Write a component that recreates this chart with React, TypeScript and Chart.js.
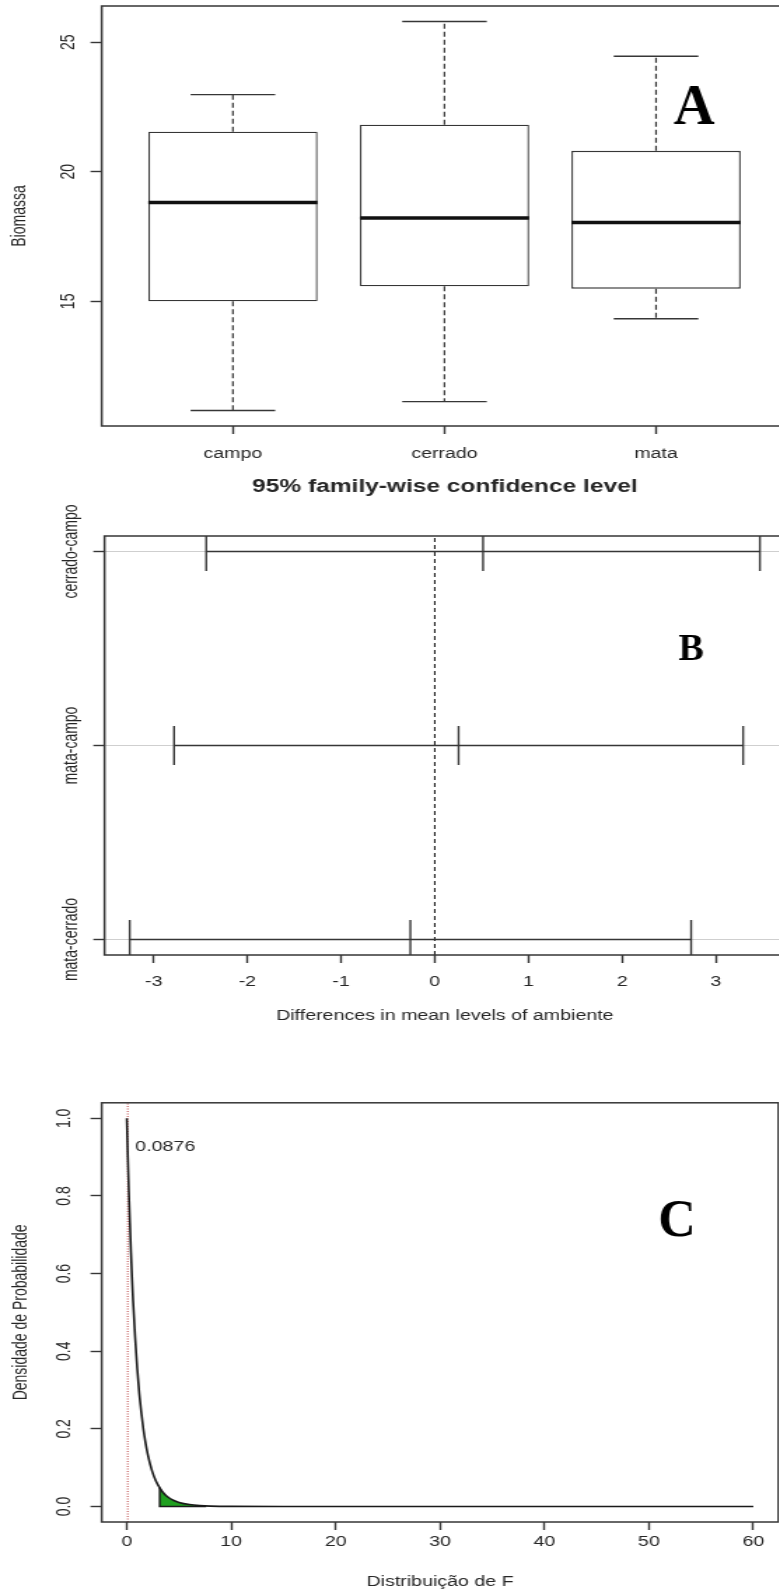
import React, { useEffect, useRef } from "react";
import { Chart, registerables } from "chart.js";

Chart.register(...registerables);

// ---------- general look ----------
const STRETCH = 1.4; // the reference picture is stretched horizontally
const BUFFER_W = 572; // drawing-buffer width of every canvas
const FONT = "'Liberation Sans', Arial, Helvetica, sans-serif";
const SERIF = "'Liberation Serif', 'Times New Roman', serif";
const INK = "#262626";
const LINE = "#363636";

// ---------- Panel A : boxplot of Biomassa ----------
const categories = ["campo", "cerrado", "mata"];
const whiskerLow = [10.79, 11.13, 14.33];
const quartile1 = [15.0, 15.58, 15.49];
const medians = [18.82, 18.22, 18.04];
const quartile3 = [21.55, 21.82, 20.81];
const whiskerHigh = [22.98, 25.8, 24.46];
const biomassTicks = [15, 20, 25];

// ---------- Panel B : Tukey HSD ----------
const comparisons = ["cerrado-campo", "mata-campo", "mata-cerrado"];
const diffs = [0.515, 0.254, -0.261];
const lowers = [-2.44, -2.783, -3.256];
const uppers = [3.47, 3.291, 2.736];
const diffTicks = [-3, -2, -1, 0, 1, 2, 3];

// ---------- Panel C : F distribution ----------
const fX = [0, 0.1, 0.2, 0.3, 0.4, 0.5, 0.6, 0.8, 1.0, 1.2, 1.4, 1.6, 1.8, 2.0, 2.4, 2.8, 3.2, 3.6, 4.0, 4.5, 5.0, 6.0, 7.0, 8.0, 10, 15, 20, 30, 40, 50, 60];
const fDensity = [1.0, 0.9, 0.81, 0.73, 0.655, 0.59, 0.53, 0.435, 0.355, 0.29, 0.24, 0.197, 0.163, 0.135, 0.093, 0.065, 0.046, 0.032, 0.023, 0.0155, 0.0105, 0.005, 0.0023, 0.001, 0.0002, 0, 0, 0, 0, 0, 0];
const tailX = [3.15, 3.2, 3.6, 4.0, 4.5, 5.0, 6.0, 7.0, 7.6];
const tailDensity = [0.048, 0.046, 0.032, 0.023, 0.0155, 0.0105, 0.005, 0.0023, 0.0015];
const fTicks = [0, 10, 20, 30, 40, 50, 60];
const densityTicks = [0, 0.2, 0.4, 0.6, 0.8, 1.0];
const observedF = 0.0876;
const observedLabel = "0.0876";

// panel letters, placed in data units of each panel
const letterA = { text: "A", x: 3.18, y: 21.84, size: 57 };
const letterB = { text: "B", x: 2.736, y: 2.443, size: 38 };
const letterC = { text: "C", x: 52.7, y: 0.697, size: 52 };

// R-style axis range (4% extension)
const rRange = (lo: number, hi: number) => {
  const d = (hi - lo) * 0.04;
  return [lo - d, hi + d];
};

// break marker for line segments
const gap = (x: number) => ({ x, y: null as any });

function segments(pairs: { x0: number; y0: number; x1: number; y1: number }[]) {
  const out: any[] = [];
  pairs.forEach((p) => {
    out.push({ x: p.x0, y: p.y0 }, { x: p.x1, y: p.y1 }, gap(p.x1));
  });
  return out;
}

// ---------- plugin: frame, rotated y labels, letters, notes ----------
function decor(cfg: {
  yTicks: number[];
  yLabels: string[];
  labelGap: number;
  letter: { text: string; x: number; y: number; size: number };
  note?: { text: string; x: number; y: number; dx: number };
}) {
  return {
    id: "decor",
    afterDraw(chart: any) {
      const { ctx, chartArea: a, scales } = chart;
      ctx.save();
      ctx.strokeStyle = LINE;
      ctx.lineWidth = 1.5;
      ctx.strokeRect(a.left, a.top, a.right - a.left, a.bottom - a.top);

      ctx.fillStyle = INK;
      ctx.font = `14px ${FONT}`;
      ctx.textAlign = "center";
      ctx.textBaseline = "middle";
      cfg.yTicks.forEach((v, i) => {
        const py = scales.y.getPixelForValue(v);
        ctx.save();
        ctx.translate(a.left - cfg.labelGap, py);
        ctx.rotate(-Math.PI / 2);
        ctx.fillText(cfg.yLabels[i], 0, 0);
        ctx.restore();
      });

      if (cfg.note) {
        ctx.textAlign = "left";
        ctx.font = `14px ${FONT}`;
        ctx.fillText(
          cfg.note.text,
          scales.x.getPixelForValue(cfg.note.x) + cfg.note.dx,
          scales.y.getPixelForValue(cfg.note.y)
        );
      }

      const L = cfg.letter;
      ctx.save();
      ctx.translate(scales.x.getPixelForValue(L.x), scales.y.getPixelForValue(L.y));
      ctx.scale(1 / STRETCH, 1);
      ctx.fillStyle = "#000";
      ctx.font = `bold ${L.size}px ${SERIF}`;
      ctx.textAlign = "center";
      ctx.textBaseline = "alphabetic";
      ctx.fillText(L.text, 0, 0);
      ctx.restore();

      ctx.restore();
    },
  };
}

const tickFont = { family: FONT, size: 14 };
const noLineDefaults = { pointRadius: 0, pointHoverRadius: 0, fill: false };

function xAxisBase(min: number, max: number, ticks: number[], padding: number, height: number) {
  return {
    type: "linear",
    min,
    max,
    offset: false,
    afterBuildTicks: (s: any) => {
      s.ticks = ticks.map((v) => ({ value: v }));
    },
    afterFit: (s: any) => {
      s.height = height;
    },
    ticks: { font: tickFont, color: INK, padding, autoSkip: false, maxRotation: 0, minRotation: 0 },
    grid: { offset: false, drawOnChartArea: false, drawTicks: true, tickLength: 8, tickColor: LINE, tickWidth: 1.4 },
    border: { display: false },
  };
}

function yAxisBase(min: number, max: number, ticks: number[], width: number) {
  return {
    type: "linear",
    min,
    max,
    beginAtZero: false,
    afterBuildTicks: (s: any) => {
      s.ticks = ticks.map((v) => ({ value: v }));
    },
    afterFit: (s: any) => {
      s.width = width;
    },
    ticks: { display: false },
    grid: { drawOnChartArea: false, drawTicks: true, tickLength: 8, tickColor: LINE, tickWidth: 1.4 },
    border: { display: false },
  };
}

// ---------- panel geometry (display px, converted to buffer px) ----------
const HA = 468;
const HB = 567;
const HC = 556;

function configA() {
  const [xmin, xmax] = [0.38, 3.62];
  const [ymin, ymax] = rRange(Math.min(...whiskerLow), Math.max(...whiskerHigh));
  const idx = categories.map((_, i) => i + 1);
  const left = 101.7 / STRETCH;
  const right = 787 / STRETCH;
  const top = 6;
  const bottom = 426;

  const x = xAxisBase(xmin, xmax, idx, 11.6, HA - bottom) as any;
  x.ticks.callback = (v: number) => categories[Math.round(v) - 1];
  const y = yAxisBase(ymin, ymax, biomassTicks, left) as any;
  y.title = { display: true, text: "Biomassa", font: tickFont, color: INK, padding: { top: 5.9, bottom: 0 } };

  return {
    type: "bar",
    data: {
      datasets: [
        {
          type: "line",
          label: "median",
          data: segments(idx.map((c, i) => ({ x0: c - 0.4, y0: medians[i], x1: c + 0.4, y1: medians[i] }))),
          borderColor: "#111",
          borderWidth: 3.5,
          order: 0,
          ...noLineDefaults,
        },
        {
          type: "bar",
          label: "box",
          data: idx.map((c, i) => ({ x: c, y: [quartile1[i], quartile3[i]] })),
          backgroundColor: "#ffffff",
          borderColor: LINE,
          borderWidth: 1.3,
          borderSkipped: false,
          barPercentage: 0.8,
          categoryPercentage: 1,
          order: 1,
        },
        {
          type: "line",
          label: "whiskers",
          data: segments(
            idx.flatMap((c, i) => [
              { x0: c, y0: quartile3[i], x1: c, y1: whiskerHigh[i] },
              { x0: c, y0: quartile1[i], x1: c, y1: whiskerLow[i] },
            ])
          ),
          borderColor: LINE,
          borderWidth: 1.2,
          borderDash: [5, 3],
          order: 2,
          ...noLineDefaults,
        },
        {
          type: "line",
          label: "caps",
          data: segments(
            idx.flatMap((c, i) => [
              { x0: c - 0.2, y0: whiskerHigh[i], x1: c + 0.2, y1: whiskerHigh[i] },
              { x0: c - 0.2, y0: whiskerLow[i], x1: c + 0.2, y1: whiskerLow[i] },
            ])
          ),
          borderColor: LINE,
          borderWidth: 1.4,
          order: 2,
          ...noLineDefaults,
        },
      ],
    },
    options: {
      animation: false,
      responsive: false,
      devicePixelRatio: 1,
      events: [],
      layout: { padding: { top, right: BUFFER_W - right, bottom: 0, left: 0 } },
      plugins: { legend: { display: false }, tooltip: { enabled: false }, title: { display: false } },
      scales: { x, y },
    },
    plugins: [decor({ yTicks: biomassTicks, yLabels: biomassTicks.map(String), labelGap: 23.2, letter: letterA })],
  };
}

function configB() {
  const [xmin, xmax] = rRange(Math.min(...lowers), Math.max(...uppers));
  const rows = comparisons.map((_, i) => comparisons.length - i);
  const [ymin, ymax] = rRange(1, comparisons.length);
  const left = 104.5 / STRETCH;
  const right = 784.9 / STRETCH;
  const bottom = 955 - 468;

  const x = xAxisBase(xmin, xmax, diffTicks, 10.3, HB - bottom) as any;
  x.ticks.callback = (v: number) => String(v);
  x.title = {
    display: true,
    text: "Differences in mean levels of ambiente",
    font: tickFont,
    color: INK,
    padding: { top: 0, bottom: 10.6 },
  };
  const y = yAxisBase(ymin, ymax, rows, left) as any;
  y.grid = { drawOnChartArea: true, color: "#cfcfcf", lineWidth: 1, drawTicks: true, tickLength: 8, tickColor: LINE, tickWidth: 1.4 };

  return {
    type: "line",
    data: {
      datasets: [
        {
          label: "intervals",
          data: segments(rows.map((r, i) => ({ x0: lowers[i], y0: r, x1: uppers[i], y1: r }))),
          borderColor: LINE,
          borderWidth: 1.4,
          ...noLineDefaults,
        },
        {
          label: "marks",
          data: segments(
            rows.flatMap((r, i) =>
              [lowers[i], diffs[i], uppers[i]].map((v) => ({ x0: v, y0: r - 0.1, x1: v, y1: r + 0.1 }))
            )
          ),
          borderColor: LINE,
          borderWidth: 1.4,
          ...noLineDefaults,
        },
        {
          label: "zero",
          data: [
            { x: 0, y: ymin },
            { x: 0, y: ymax },
          ],
          borderColor: "#222",
          borderWidth: 1.1,
          borderDash: [4, 3],
          ...noLineDefaults,
        },
      ],
    },
    options: {
      animation: false,
      responsive: false,
      devicePixelRatio: 1,
      events: [],
      layout: { padding: { top: 0, right: BUFFER_W - right, bottom: 0, left: 0 } },
      plugins: {
        legend: { display: false },
        tooltip: { enabled: false },
        title: {
          display: true,
          text: "95% family-wise confidence level",
          fullSize: false,
          font: { family: FONT, size: 17.5, weight: "bold" },
          color: INK,
          padding: { top: 8.5, bottom: 38.5 },
        },
      },
      scales: { x, y },
    },
    plugins: [decor({ yTicks: rows, yLabels: comparisons, labelGap: 23.3, letter: letterB })],
  };
}

function configC() {
  const [xmin, xmax] = rRange(fTicks[0], fTicks[fTicks.length - 1]);
  const [ymin, ymax] = rRange(densityTicks[0], densityTicks[densityTicks.length - 1]);
  const left = 101.7 / STRETCH;
  const right = 778.2 / STRETCH;
  const top = 1102.8 - 1035;
  const bottom = 1522 - 1035;

  const x = xAxisBase(xmin, xmax, fTicks, 3.6, HC - bottom) as any;
  x.ticks.callback = (v: number) => String(v);
  x.title = { display: true, text: "Distribuição de F", font: tickFont, color: INK, padding: { top: 0, bottom: 0 } };
  const y = yAxisBase(ymin, ymax, densityTicks, left) as any;
  y.title = { display: true, text: "Densidade de Probabilidade", font: tickFont, color: INK, padding: { top: 7, bottom: 0 } };

  const lastTail = tailX.length - 1;
  return {
    type: "line",
    data: {
      datasets: [
        {
          label: "density",
          data: fX.map((v, i) => ({ x: v, y: fDensity[i] })),
          borderColor: "#1a1a1a",
          borderWidth: 1.6,
          cubicInterpolationMode: "monotone",
          order: 0,
          ...noLineDefaults,
        },
        {
          label: "tail edge",
          data: [
            { x: tailX[0], y: tailDensity[0] },
            { x: tailX[0], y: 0 },
            { x: tailX[lastTail], y: 0 },
          ],
          borderColor: "#1a1a1a",
          borderWidth: 1.4,
          order: 1,
          ...noLineDefaults,
        },
        {
          label: "observed F",
          data: [
            { x: observedF, y: ymin },
            { x: observedF, y: ymax },
          ],
          borderColor: "rgba(175, 35, 35, 0.9)",
          borderWidth: 1,
          borderDash: [1, 1.5],
          order: 2,
          ...noLineDefaults,
        },
        {
          label: "rejection area",
          data: tailX.map((v, i) => ({ x: v, y: tailDensity[i] })),
          borderWidth: 0,
          borderColor: "rgba(0,0,0,0)",
          backgroundColor: "#1f9f1f",
          cubicInterpolationMode: "monotone",
          pointRadius: 0,
          fill: "origin",
          order: 3,
        },
      ],
    },
    options: {
      animation: false,
      responsive: false,
      devicePixelRatio: 1,
      events: [],
      layout: { padding: { top, right: BUFFER_W - right, bottom: 0, left: 0 } },
      plugins: { legend: { display: false }, tooltip: { enabled: false }, title: { display: false } },
      scales: { x, y },
    },
    plugins: [
      decor({
        yTicks: densityTicks,
        yLabels: densityTicks.map((v) => v.toFixed(1)),
        labelGap: 26.2,
        letter: letterC,
        note: { text: observedLabel, x: observedF, y: 0.925, dx: 5.4 },
      }),
    ],
  };
}

export default function App() {
  const aRef = useRef<HTMLCanvasElement>(null);
  const bRef = useRef<HTMLCanvasElement>(null);
  const cRef = useRef<HTMLCanvasElement>(null);

  useEffect(() => {
    document.body.style.margin = "0";
    Chart.defaults.font.family = FONT;
    Chart.defaults.color = INK;
    const charts = [
      new Chart(aRef.current as any, configA() as any),
      new Chart(bRef.current as any, configB() as any),
      new Chart(cRef.current as any, configC() as any),
    ];
    return () => charts.forEach((c) => c.destroy());
  }, []);

  const cssW = `${BUFFER_W * STRETCH}px`;
  const canvasStyle = (h: number) => ({ display: "block", width: cssW, height: `${h}px` });

  return (
    <div
      style={{
        position: "absolute",
        left: 0,
        top: 0,
        width: 779,
        height: 1591,
        overflow: "hidden",
        background: "#ffffff",
      }}
    >
      <canvas ref={aRef} width={BUFFER_W} height={HA} style={canvasStyle(HA)} />
      <canvas ref={bRef} width={BUFFER_W} height={HB} style={canvasStyle(HB)} />
      <canvas ref={cRef} width={BUFFER_W} height={HC} style={canvasStyle(HC)} />
    </div>
  );
}
